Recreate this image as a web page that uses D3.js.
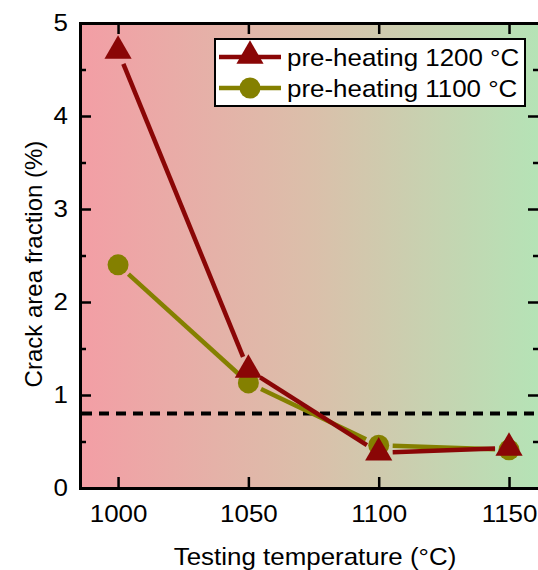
<!DOCTYPE html>
<html>
<head>
<meta charset="utf-8">
<script src="https://cdn.jsdelivr.net/npm/d3@7"></script>
<style>
  body { margin: 0; background: #fff; }
  text { font-family: "Liberation Sans", Arial, sans-serif; fill: #000; }
</style>
</head>
<body>
<svg width="538" height="570"></svg>
<script>
const temps = [1000, 1050, 1100, 1150];
const pre1200 = [4.70, 1.27, 0.38, 0.43];
const pre1100 = [2.40, 1.13, 0.46, 0.41];
const xTicks = [1000, 1050, 1100, 1150];
const yTicks = [0, 1, 2, 3, 4, 5];
const threshold = 0.8;

const svg = d3.select('svg');
const margin = {top: 23, left: 80, bottom: 488, right: 539};
const fs = 24, stretch = 1.08;

const xScale = d3.scaleLinear().domain([985.4, 1161.5]).range([margin.left, margin.right]);
const yScale = d3.scaleLinear().domain([0, 5]).range([margin.bottom, margin.top]);

// background gradient
const defs = svg.append('defs');
const grad = defs.append('linearGradient').attr('id', 'bg').attr('x1', 0).attr('x2', 1).attr('y1', 0).attr('y2', 0);
grad.append('stop').attr('offset', '0%').attr('stop-color', '#f39ea5');
grad.append('stop').attr('offset', '50%').attr('stop-color', '#dbbfaa');
grad.append('stop').attr('offset', '100%').attr('stop-color', '#b5e3b6');

svg.append('rect')
  .attr('x', margin.left).attr('y', margin.top)
  .attr('width', margin.right - margin.left).attr('height', margin.bottom - margin.top)
  .attr('fill', 'url(#bg)');

// dashed threshold
svg.append('line')
  .attr('x1', margin.left + 2).attr('x2', margin.right)
  .attr('y1', yScale(threshold)).attr('y2', yScale(threshold))
  .attr('stroke', '#000').attr('stroke-width', 4).attr('stroke-dasharray', '10,7');

// axes
const yMinor = d3.range(0.5, 5, 1);
const axisG = svg.append('g');
axisG.append('g').attr('class', 'yl').attr('transform', `translate(${margin.left},0)`)
  .call(d3.axisLeft(yScale).tickValues(yTicks).tickSize(-11).tickPadding(12).tickFormat(d3.format('d')));
axisG.append('g').attr('transform', `translate(${margin.left},0)`)
  .call(d3.axisLeft(yScale).tickValues(yMinor).tickSize(-6).tickFormat(''));
axisG.append('g').attr('transform', `translate(${margin.right},0)`)
  .call(d3.axisRight(yScale).tickValues(yTicks).tickSize(-11).tickFormat(''));
axisG.append('g').attr('transform', `translate(${margin.right},0)`)
  .call(d3.axisRight(yScale).tickValues(yMinor).tickSize(-6).tickFormat(''));
axisG.append('g').attr('transform', `translate(0,${margin.bottom})`)
  .call(d3.axisBottom(xScale).tickValues(xTicks).tickSize(-11).tickPadding(17).tickFormat(d3.format('d')));
axisG.append('g').attr('transform', `translate(0,${margin.top})`)
  .call(d3.axisTop(xScale).tickValues(xTicks).tickSize(-11).tickFormat(''));

axisG.selectAll('.domain').attr('stroke', '#000').attr('stroke-width', 3);
axisG.selectAll('.tick line').attr('stroke', '#000').attr('stroke-width', 2.5);
axisG.selectAll('.tick text')
  .style('font-size', fs + 'px').attr('fill', '#000')
  .style('font-family', '"Liberation Sans", Arial, sans-serif')
  .attr('transform', `scale(${stretch},1)`);
axisG.selectAll('.yl .tick text').attr('x', -12 / stretch);

// lines with gaps near markers
const gap = 14;
function drawSeries(vals, color) {
  const pts = temps.map((t, i) => [xScale(t), yScale(vals[i])]);
  for (let i = 0; i < pts.length - 1; i++) {
    const [x1, y1] = pts[i], [x2, y2] = pts[i + 1];
    const len = Math.hypot(x2 - x1, y2 - y1);
    const ux = (x2 - x1) / len, uy = (y2 - y1) / len;
    svg.append('line')
      .attr('x1', x1 + ux * gap).attr('y1', y1 + uy * gap)
      .attr('x2', x2 - ux * gap).attr('y2', y2 - uy * gap)
      .attr('stroke', color).attr('stroke-width', 4.5);
  }
  return pts;
}

const red = '#8a0606';
const olive = '#848000';

const olivePts = drawSeries(pre1100, olive);
const redPts = drawSeries(pre1200, red);

svg.selectAll('circle.s1100').data(olivePts).enter().append('circle')
  .attr('class', 's1100')
  .attr('cx', d => d[0]).attr('cy', d => d[1]).attr('r', 10.5).attr('fill', olive);

const tri = d3.symbol().type(d3.symbolTriangle).size(320);
svg.selectAll('path.s1200').data(redPts).enter().append('path')
  .attr('class', 's1200')
  .attr('transform', d => `translate(${d[0]},${d[1]})`)
  .attr('d', tri).attr('fill', red);

// legend
const leg = svg.append('g');
leg.append('rect').attr('x', 215).attr('y', 39).attr('width', 310).attr('height', 67)
  .attr('fill', '#fff').attr('stroke', '#000').attr('stroke-width', 2);
const legItems = [
  {label: 'pre-heating 1200 °C', color: red, type: 'tri'},
  {label: 'pre-heating 1100 °C', color: olive, type: 'circ'}
];
legItems.forEach((d, i) => {
  const y = 57 + i * 31;
  leg.append('line').attr('x1', 219).attr('x2', 281).attr('y1', y).attr('y2', y)
    .attr('stroke', d.color).attr('stroke-width', 4.5);
  if (d.type === 'tri') {
    leg.append('path').attr('transform', `translate(250,${y - 1})`).attr('d', tri).attr('fill', d.color);
  } else {
    leg.append('circle').attr('cx', 250).attr('cy', y).attr('r', 10.5).attr('fill', d.color);
  }
  leg.append('text').attr('transform', `translate(287,${y + 9}) scale(${stretch},1)`)
    .style('font-size', fs + 'px').text(d.label);
});

// axis titles
svg.append('text').attr('transform', `translate(315,565) scale(${stretch},1)`).attr('text-anchor', 'middle')
  .style('font-size', fs + 'px').text('Testing temperature (°C)');
svg.append('text').attr('transform', 'translate(42,264) rotate(-90)').attr('text-anchor', 'middle')
  .style('font-size', fs + 'px').text('Crack area fraction (%)');
</script>
</body>
</html>
